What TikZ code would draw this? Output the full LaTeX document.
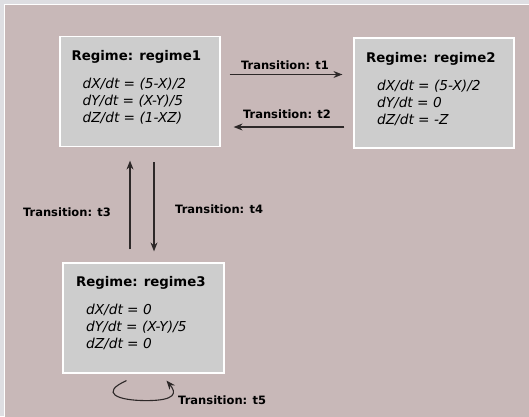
\documentclass[tikz,border=0pt]{standalone}
\usepackage{fontspec}
\setmainfont{DejaVu Sans}
\usetikzlibrary{arrows.meta}
\definecolor{outerbg}{RGB}{222,222,226}
\definecolor{panel}{RGB}{200,184,184}
\definecolor{boxfill}{RGB}{205,205,205}
\definecolor{lineclr}{RGB}{45,40,40}

\begin{document}
\begin{tikzpicture}[x=1pt,y=1pt,
  box/.style={rectangle,draw=white,line width=1.2pt,fill=boxfill,minimum width=160pt,minimum height=110pt,inner sep=0pt},
  hdr/.style={anchor=base west,inner sep=0pt,font=\bfseries\fontsize{13.3}{16}\selectfont},
  eq/.style={anchor=base west,inner sep=0pt,font=\itshape\fontsize{13.7}{17}\selectfont},
  lbl/.style={inner sep=0pt,font=\bfseries\fontsize{11.5}{14}\selectfont},
  tr/.style={draw=lineclr,line width=1.1pt,-{Stealth[length=9pt,width=7pt,inset=3pt]}}]
\useasboundingbox (0,0) rectangle (529,416);
\fill[outerbg] (0,0) rectangle (529,416);
\filldraw[fill=panel,draw=white,line width=1pt] (4.5,-5) rectangle (535,411);
% regimes
\node[box] at (140,324.5) (r1) {};
\node[box] at (434,323) (r2) {};
\node[box,minimum width=161pt] at (143.5,98) (r3) {};
\node[hdr] at ([shift={(12,-25)}]r1.north west) (r1h) {Regime: regime1};
\node[eq] at ([shift={(23,-53)}]r1.north west) (r1a) {dX/dt = (5-X)/2};
\node[eq] at ([shift={(23,-70)}]r1.north west) (r1b) {dY/dt = (X-Y)/5};
\node[eq] at ([shift={(23,-87)}]r1.north west) (r1c) {dZ/dt = (1-XZ)};
\node[hdr] at ([shift={(12.5,-25)}]r2.north west) (r2h) {Regime: regime2};
\node[eq] at ([shift={(23.5,-53.5)}]r2.north west) (r2a) {dX/dt = (5-X)/2};
\node[eq] at ([shift={(23.5,-70.5)}]r2.north west) (r2b) {dY/dt = 0};
\node[eq] at ([shift={(23.5,-87.5)}]r2.north west) (r2c) {dZ/dt = -Z};
\node[hdr] at ([shift={(13.5,-24)}]r3.north west) (r3h) {Regime: regime3};
\node[eq] at ([shift={(23.5,-52)}]r3.north west) (r3a) {dX/dt = 0};
\node[eq] at ([shift={(23.5,-69)}]r3.north west) (r3b) {dY/dt = (X-Y)/5};
\node[eq] at ([shift={(23.5,-86)}]r3.north west) (r3c) {dZ/dt = 0};
% transitions
\draw[tr,shorten <=9pt,shorten >=11pt] ([yshift=17pt]r1.east) -- ([yshift=17pt]r1.east -| r2.west);
\draw[tr,shorten <=9pt,shorten >=13pt] ([yshift=-34pt]r2.west) -- ([yshift=-34pt]r2.west -| r1.east);
\draw[tr,shorten <=13pt,shorten >=13.5pt] ([xshift=-13.5pt]r3.north) -- ([xshift=-13.5pt]r3.north |- r1.south);
\draw[tr,shorten <=15pt,shorten >=11pt] ([xshift=14pt]r1.south) -- ([xshift=14pt]r1.south |- r3.north);
\draw[tr] ([shift={(-17,-7)}]r3.south) .. controls +(-27,-12) and +(-30,0) .. ([shift={(3,-27)}]r3.south)
  .. controls +(30,0) and +(10,-12) .. ([shift={(23,-7)}]r3.south);
\node[lbl] at (285,351) (l1) {Transition: t1};
\node[lbl] at (287,302) (l2) {Transition: t2};
\node[lbl] at (67,204) (l3) {Transition: t3};
\node[lbl,anchor=west] at (175,207) (l4) {Transition: t4};
\node[lbl,anchor=west] at (178,16) (l5) {Transition: t5};
\end{tikzpicture}
\end{document}
